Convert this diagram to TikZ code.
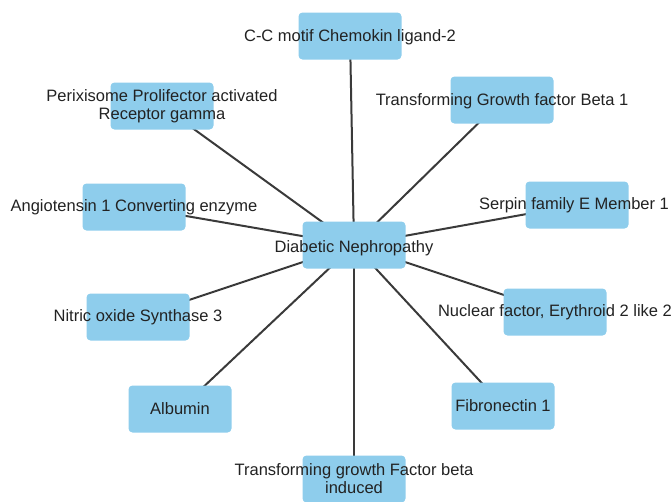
\documentclass[tikz,border=0pt]{standalone}
\usepackage{fontspec}
\setmainfont{Liberation Sans}
\usetikzlibrary{backgrounds}
\definecolor{boxblue}{HTML}{8ECDEC}
\definecolor{edgegray}{HTML}{3A3A3A}
\definecolor{textgray}{HTML}{222222}
\begin{document}
\begin{tikzpicture}[x=1pt,y=-1pt,
  gene/.style={fill=boxblue, rounded corners=4pt, minimum width=103pt, minimum height=47pt, inner sep=0pt},
  lab/.style={text=textgray, font=\fontsize{16.5}{18}\selectfont, align=center, inner sep=0pt},
  link/.style={draw=edgegray, line width=2pt}]
\useasboundingbox (0,0) rectangle (671,501);
% boxes
\node[gene] (dn)  at (354,245) {};
\node[gene] (ccl) at (350,36)  {};
\node[gene] (ppg) at (162,106) {};
\node[gene] (ace) at (134,207) {};
\node[gene] (tgb) at (502,100) {};
\node[gene] (ser) at (577,205) {};
\node[gene] (nos) at (138,317) {};
\node[gene] (alb) at (180,409) {};
\node[gene] (nfe) at (555,312) {};
\node[gene] (fn)  at (503,406) {};
\node[gene] (tgi) at (354,479) {};
% connectors
\begin{pgfonlayer}{background}
\foreach \n in {ccl,ppg,ace,tgb,ser,nos,alb,nfe,fn,tgi}
  \draw[link] (dn.center) -- (\n.center);
\end{pgfonlayer}
% labels
\node[lab] (dnl)  at ([yshift=-3pt]dn.center)  {Diabetic Nephropathy};
\node[lab] (ccll) at ([yshift=-1pt]ccl.center) {C-C motif Chemokin ligand-2};
\node[lab] (ppgl) at (ppg) {Perixisome Prolifector activated\\Receptor gamma};
\node[lab] (acel) at (ace) {Angiotensin 1 Converting enzyme};
\node[lab] (tgbl) at ([yshift=-1pt]tgb.center) {Transforming Growth factor Beta 1};
\node[lab] (serl) at ([xshift=-3pt]ser.center) {Serpin family E Member 1};
\node[lab] (nosl) at (nos) {Nitric oxide Synthase 3};
\node[lab] (albl) at (alb) {Albumin};
\node[lab] (nfel) at (nfe) {Nuclear factor, Erythroid 2 like 2};
\node[lab] (fnl)  at (fn)  {Fibronectin 1};
\node[lab] (tgil) at (tgi) {Transforming growth Factor beta\\induced};
\end{tikzpicture}
\end{document}
